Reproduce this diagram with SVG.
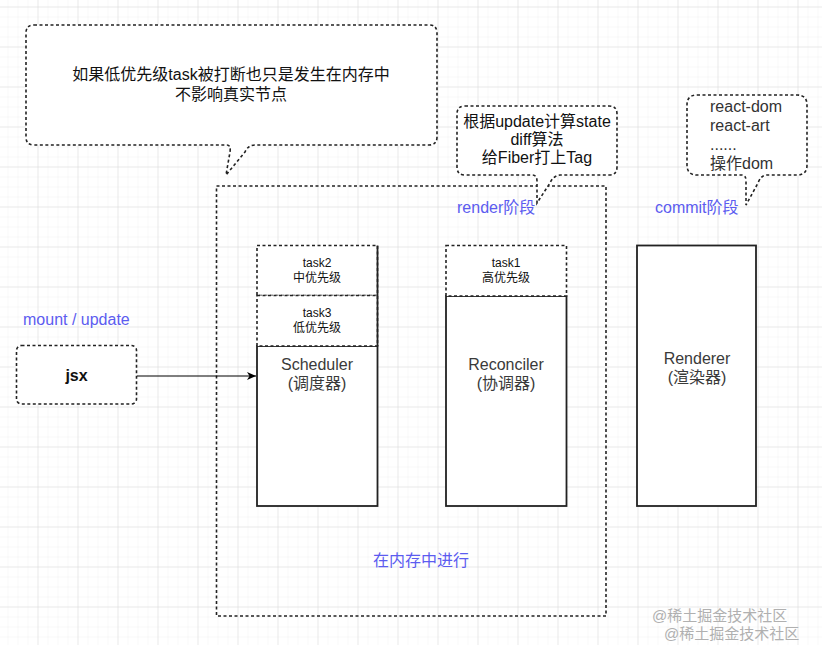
<svg xmlns="http://www.w3.org/2000/svg" width="822" height="645" viewBox="0 0 822 645">
<defs>
<pattern id="minor" patternUnits="userSpaceOnUse" x="-2.5" y="6.5" width="10" height="10">
<path d="M0,0 H10 M0,0 V10" fill="none" stroke="#f1f1f1" stroke-width="1"/>
</pattern>
<pattern id="major" patternUnits="userSpaceOnUse" x="-2.5" y="6.5" width="40" height="40">
<path d="M0,0 H40 M0,0 V40" fill="none" stroke="#dcdcdc" stroke-width="1"/>
</pattern>
<marker id="arr" markerWidth="10" markerHeight="10" refX="9" refY="5" orient="auto" markerUnits="userSpaceOnUse">
<path d="M0,1 L9,5 L0,9 L2.5,5 Z" fill="#000"/>
</marker>
</defs>
<style>
text{font-family:"Liberation Sans","Noto Sans CJK SC",sans-serif;}
.dash{fill:#fff;stroke:#222;stroke-width:1.6;stroke-dasharray:3 2.5;}
.dashn{fill:none;stroke:#222;stroke-width:1.6;stroke-dasharray:3 2.5;}
.col{fill:#fff;stroke:#222;stroke-width:1.8;}
.t{fill:#111;font-size:16px;text-anchor:middle;}
.g{fill:#3a3a3a;font-size:16px;text-anchor:middle;}
.s{fill:#111;font-size:12px;text-anchor:middle;}
.b{fill:#5c5cf0;font-size:16px;}
.wm{fill:#b0b0b0;font-size:15px;}
</style>
<rect width="822" height="645" fill="#fff"/>
<rect width="822" height="645" fill="url(#minor)"/>
<rect width="822" height="645" fill="url(#major)"/>

<g id="container">
<rect x="216.5" y="186" width="389.5" height="430" class="dashn"/>
<text x="421" y="566" class="b" text-anchor="middle">在内存中进行</text>
</g>

<g id="callout-memory">
<path class="dash" d="M34,25 H429 Q437,25 437,33 V137 Q437,145 429,145 H255 Q248,145 245,152 L226,175 L230,152 Q231,145 227,145 H34 Q26,145 26,137 V33 Q26,25 34,25 Z"/>
<text x="231" y="80" class="t">如果低优先级task被打断也只是发生在内存中</text>
<text x="231" y="100" class="t">不影响真实节点</text>
</g>

<g id="callout-render">
<path class="dash" d="M465,106 H609 Q617,106 617,114 V167 Q617,175 609,175 H560 Q553,176 550,183 L537,203 L537,181 Q537,175 532,175 H465 Q457,175 457,167 V114 Q457,106 465,106 Z"/>
<text x="537" y="127" class="t">根据update计算state</text>
<text x="537" y="145" class="t">diff算法</text>
<text x="537" y="163" class="t">给Fiber打上Tag</text>
</g>

<g id="callout-commit">
<path class="dash" d="M697,95 H797 Q807,95 807,105 V165 Q807,175 797,175 H767 Q761,175 758,183 L746,205 L746,181 Q746,175 742,175 H697 Q687,175 687,165 V105 Q687,95 697,95 Z"/>
<text x="710" y="112" fill="#333" font-size="16">react-dom</text>
<text x="710" y="131" fill="#333" font-size="16">react-art</text>
<text x="710" y="150" fill="#333" font-size="16">......</text>
<text x="710" y="169" fill="#333" font-size="16">操作dom</text>
</g>

<g id="label-render"><text x="457" y="213" class="b">render阶段</text></g>
<g id="label-commit"><text x="655" y="213" class="b">commit阶段</text></g>
<g id="label-mount"><text x="23" y="325" class="b" font-size="15">mount / update</text></g>

<g id="jsx">
<rect x="16.5" y="345.5" width="120" height="58.5" rx="5" class="dash"/>
<text x="76.5" y="381" class="t" font-weight="bold">jsx</text>
</g>

<g id="scheduler">
<rect x="257" y="346" width="120.5" height="160" class="col"/>
<rect x="257" y="245.5" width="120.5" height="50" class="dash"/>
<rect x="257" y="295.5" width="120.5" height="50.5" class="dash"/>
<line x1="377.5" y1="245.5" x2="377.5" y2="346" stroke="#222" stroke-width="1.8"/>
<text x="317" y="267" class="s">task2</text>
<text x="317" y="282" class="s">中优先级</text>
<text x="317" y="317" class="s">task3</text>
<text x="317" y="332" class="s">低优先级</text>
<text x="317" y="370" class="g">Scheduler</text>
<text x="317" y="389" class="g">(调度器)</text>
</g>

<g id="reconciler">
<rect x="446" y="296" width="120.5" height="210" class="col"/>
<rect x="446" y="245.5" width="120.5" height="50.5" class="dash"/>
<text x="506" y="267" class="s">task1</text>
<text x="506" y="282" class="s">高优先级</text>
<text x="506" y="370" class="g">Reconciler</text>
<text x="506" y="389" class="g">(协调器)</text>
</g>

<g id="renderer">
<rect x="637" y="245.5" width="119" height="260.5" class="col"/>
<text x="697" y="364" class="g">Renderer</text>
<text x="697" y="383" class="g">(渲染器)</text>
</g>

<g id="connectors">
<line x1="137" y1="376" x2="256" y2="376" stroke="#000" stroke-width="1.2" marker-end="url(#arr)"/>
</g>

<g id="watermark">
<text x="652" y="621" class="wm">@稀土掘金技术社区</text>
<text x="664" y="639" class="wm">@稀土掘金技术社区</text>
</g>
</svg>
